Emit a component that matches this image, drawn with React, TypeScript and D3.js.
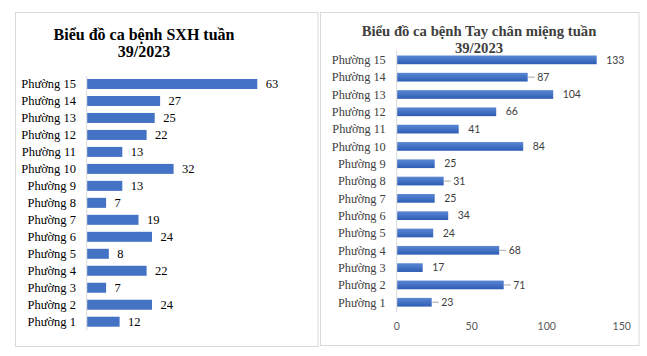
import React from "react";
import * as d3 from "d3";

const categories = ["Phường 15","Phường 14","Phường 13","Phường 12","Phường 11","Phường 10","Phường 9","Phường 8","Phường 7","Phường 6","Phường 5","Phường 4","Phường 3","Phường 2","Phường 1"];
const sxhValues = [63,27,25,22,13,32,13,7,19,24,8,22,7,24,12];
const tcmValues = [133,87,104,66,41,84,25,31,25,34,24,68,17,71,23];
const tcmLeader = ["Phường 14","Phường 8","Phường 4","Phường 2","Phường 1"];
const tcmTicks = [0,50,100,150];
const titleLeft = ["Biểu đồ ca bệnh SXH tuần","39/2023"];
const titleRight = ["Biểu đồ ca bệnh Tay chân miệng tuần","39/2023"];

const SERIF = "'Liberation Serif', 'Times New Roman', serif";
const SANS = "Lato, 'Liberation Sans', sans-serif";

export default function App() {
  const yL = d3.scalePoint<string>().domain(categories).range([75.5, 330.2]).padding(0.5);
  const xL = d3.scaleLinear().domain([0, 70]).range([86.7, 275.7]);
  const yR = d3.scalePoint<string>().domain(categories).range([51.2, 310.9]).padding(0.5);
  const xR = d3.scaleLinear().domain([0, 150]).range([396.7, 621.7]);

  const bhL = 10;
  const bhR = 8.7;

  return (
    <div style={{ position: "absolute", left: 0, top: 0 }}>
      <svg width={647} height={356} style={{ display: "block" }}>
        <defs>
          <linearGradient id="gbar" x1="0" y1="0" x2="0" y2="1">
            <stop offset="0" stopColor="#5b86d4" />
            <stop offset="0.5" stopColor="#4472c4" />
            <stop offset="1" stopColor="#2e5cb3" />
          </linearGradient>
        </defs>
        <rect x={0} y={0} width={647} height={356} fill="#ffffff" />
        <rect x={15.5} y={12.5} width={302.5} height={334} fill="#fff" stroke="#d9d9d9" strokeWidth={1} />
        {titleLeft.map((t, i) => (
          <text key={i} x={144} y={40 + i * 17} textAnchor="middle" fontFamily={SERIF} fontWeight="bold" fontSize={16} fill="#000">{t}</text>
        ))}
        <line x1={xL(0)} x2={xL(0)} y1={76} y2={330} stroke="#d9d9d9" strokeWidth={1} />
        {categories.map((c, i) => {
          const cy = yL(c)!;
          const v = sxhValues[i];
          return (
            <g key={c}>
              <text x={76} y={cy} dy="0.35em" textAnchor="end" fontFamily={SERIF} fontSize={12.5} fill="#000">{c}</text>
              <rect x={xL(0) + 0.5} y={cy - bhL / 2} width={xL(v) - xL(0)} height={bhL} fill="#4472c4" />
              <text x={xL(v) + 9} y={cy} dy="0.35em" fontFamily={SERIF} fontSize={12.5} fill="#000">{v}</text>
            </g>
          );
        })}

        <rect x={320.5} y={12.5} width={318.5} height={333} fill="#fff" stroke="#d9d9d9" strokeWidth={1} />
        {titleRight.map((t, i) => (
          <text key={i} x={479} y={36 + i * 16.5} textAnchor="middle" fontFamily={SERIF} fontWeight="bold" fontSize={14.7} fill="#404040">{t}</text>
        ))}
        <line x1={xR(0)} x2={xR(0)} y1={50} y2={312} stroke="#d9d9d9" strokeWidth={1} />
        {categories.map((c, i) => {
          const cy = yR(c)!;
          const v = tcmValues[i];
          const leader = tcmLeader.includes(c);
          return (
            <g key={c}>
              <text x={385.7} y={cy} dy="0.35em" textAnchor="end" fontFamily={SERIF} fontSize={12.3} fill="#404040">{c}</text>
              <rect x={xR(0) + 0.5} y={cy - bhR / 2} width={xR(v) - xR(0)} height={bhR} fill="url(#gbar)" />
              {leader && (
                <line x1={xR(v) + 1} x2={xR(v) + 7.5} y1={cy} y2={cy} stroke="#a6a6a6" strokeWidth={1} />
              )}
              <text x={xR(v) + 10} y={cy} dy="0.35em" fontFamily={SANS} fontSize={10.5} fill="#404040">{v}</text>
            </g>
          );
        })}
        {tcmTicks.map((t) => (
          <text key={t} x={xR(t)} y={326.7} dy="0.35em" textAnchor="middle" fontFamily={SANS} fontSize={10.5} fill="#595959">{t}</text>
        ))}
      </svg>
    </div>
  );
}
